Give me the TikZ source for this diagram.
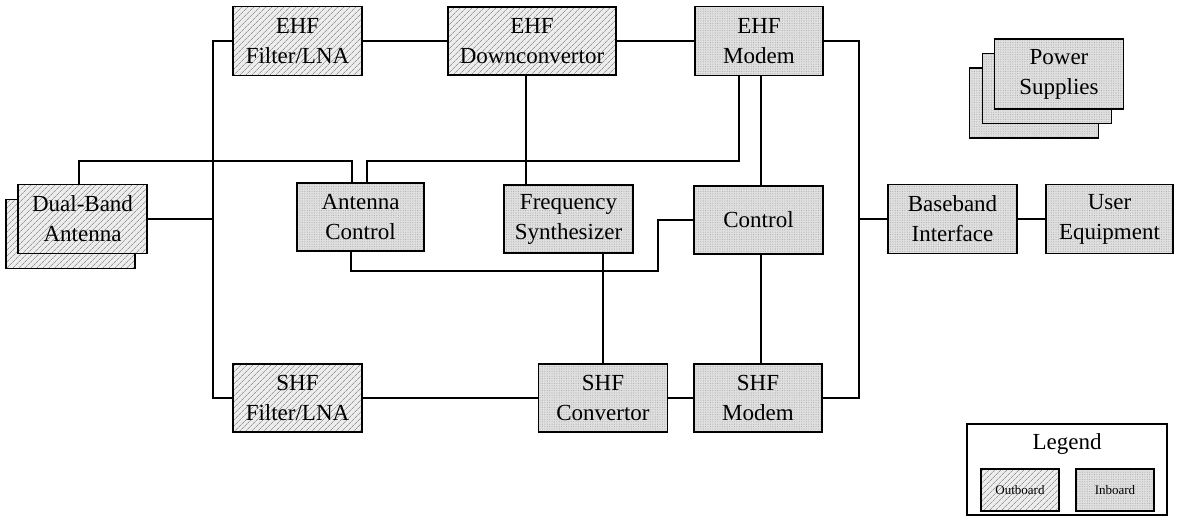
\documentclass[tikz,border=0pt]{standalone}
\usepackage{fontspec}
\setmainfont{Liberation Serif}
\usetikzlibrary{patterns.meta}
\begin{document}
\begin{tikzpicture}[x=1pt,y=-1pt,
  box/.style={draw=black, line width=1.5pt, minimum width=129pt, minimum height=69pt,
    inner sep=0pt, align=center, font=\fontsize{23}{30}\selectfont},
  outboard/.style={box, preaction={fill=gray!14},
    pattern={Lines[angle=45,distance=4pt,line width=0.75pt]}, pattern color=gray!80},
  inboard/.style={box, preaction={fill=gray!24},
    pattern={Dots[distance=2.4pt,radius=0.55pt]}, pattern color=gray!65},
  keybox/.style={minimum width=78pt, minimum height=42pt, line width=1.3pt,
    font=\fontsize{13}{15}\selectfont},
  wire/.style={line width=1.3pt}]
\useasboundingbox (0,0) rectangle (1178,525);

% EHF receive chain
\node[outboard] (ehfLna) at (297.5,41) {EHF\\Filter/LNA};
\node[outboard, minimum width=168pt, minimum height=68pt] (ehfDown) at (532,41) {EHF\\Downconvertor};
\node[inboard, minimum width=128pt] (ehfModem) at (759,41) {EHF\\Modem};

% power supplies (stacked)
\node[inboard, minimum height=70pt] (psBackB) at (1034,103) {};
\node[inboard, minimum height=70pt] (psBackA) at (1047,88.5) {};
\node[inboard, minimum height=70pt] (psFront) at (1059,74) {Power\\Supplies};

% antenna (stacked)
\node[outboard] (antBack) at (70.5,234) {};
\node[outboard] (ant) at (82.5,219) {Dual-Band\\Antenna};

% middle row
\node[inboard, minimum width=127pt, minimum height=68pt] (antCtrl) at (360.5,217) {Antenna\\Control};
\node[inboard, minimum height=68pt] (freqSyn) at (568.5,219) {Frequency\\Synthesizer};
\node[inboard, minimum height=68pt] (control) at (758.5,220) {Control};
\node[inboard] (baseband) at (952.5,219) {Baseband\\Interface};
\node[inboard, minimum width=127pt] (user) at (1109.5,219) {User\\Equipment};

% SHF chain
\node[outboard, minimum height=68pt] (shfLna) at (297.5,398) {SHF\\Filter/LNA};
\node[inboard, minimum height=68pt] (shfConv) at (603,398) {SHF\\Convertor};
\node[inboard, minimum width=128pt, minimum height=68pt] (shfModem) at (758,398) {SHF\\Modem};

% legend
\node[draw, line width=1.3pt, minimum width=200pt, minimum height=91pt, inner sep=0pt] (legendBox) at (1067,469.5) {};
\node[font=\fontsize{23}{30}\selectfont, inner sep=0pt] (legendTitle) at (1067,444) {Legend};
\node[outboard, keybox] (keyOut) at (1020,490) {Outboard};
\node[inboard, keybox] (keyIn) at (1115,490) {Inboard};

% junction points
\coordinate (busL) at (213,219);
\coordinate (busR) at (859,219);
\coordinate (jA) at (79,161);
\coordinate (jB) at (352,161);
\coordinate (jC) at (739,161);
\coordinate (jD) at (367,161);
\coordinate (jE) at (761,0);
\coordinate (jF) at (526,0);
\coordinate (jG) at (351,271);
\coordinate (jH) at (658,271);

% connections
\draw[wire] (ehfLna.west) -| (busL) |- (shfLna.west);
\draw[wire] (ant.east) -- (busL);
\draw[wire] (ehfLna.east) -- (ehfDown.west);
\draw[wire] (ehfDown.east) -- (ehfModem.west);
\draw[wire] (shfLna.east) -- (shfConv.west);
\draw[wire] (shfConv.east) -- (shfModem.west);
\draw[wire] (ehfModem.east) -| (busR) |- (shfModem.east);
\draw[wire] (busR) -- (baseband.west);
\draw[wire] (baseband.east) -- (user.west);
\draw[wire] (ant.north -| jA) -- (jA) -- (jB) -- (jB |- antCtrl.north);
\draw[wire] (ehfModem.south -| jC) -- (jC) -- (jD) -- (jD |- antCtrl.north);
\draw[wire] (ehfModem.south -| jE) -- (control.north -| jE);
\draw[wire] (control.south -| jE) -- (shfModem.north -| jE);
\draw[wire] (ehfDown.south -| jF) -- (freqSyn.north -| jF);
\draw[wire] (freqSyn.south -| shfConv.north) -- (shfConv.north);
\draw[wire] (antCtrl.south -| jG) -- (jG) -- (jH) |- (control.west);
\end{tikzpicture}
\end{document}
